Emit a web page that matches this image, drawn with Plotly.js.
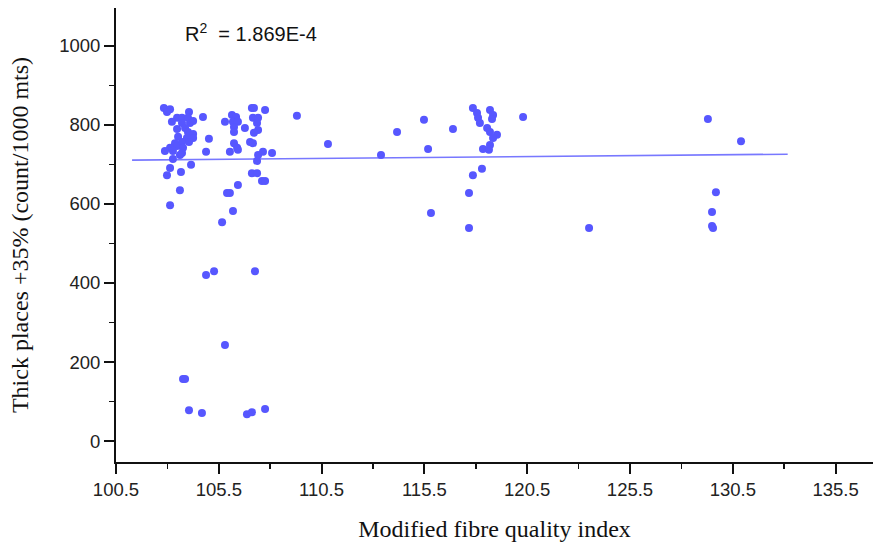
<!DOCTYPE html>
<html>
<head>
<meta charset="utf-8">
<script src="https://cdn.plot.ly/plotly-3.0.1.min.js"></script>
<style>html,body{margin:0;padding:0;background:#fff;}#chart{width:873px;height:544px;}</style>
</head>
<body>
<div id="chart"></div>
<script>
// Modified fibre quality index (x) vs Thick places +35% (y)
const mfqi = [
  102.83,103.13,102.98,104.05,104.73,103.47,103.71,104.00,103.22,103.71,
  104.10,104.25,103.47,103.86,104.00,104.25,103.52,103.95,104.25,103.37,
  103.71,104.05,105.02,103.13,103.47,103.76,102.88,103.27,103.71,104.88,
  103.27,103.61,104.15,103.13,103.66,102.98,103.61,103.13,103.76,103.86,
  104.05,104.68,104.88,105.27,105.80,106.14,106.34,106.19,106.43,106.24,
  106.24,106.77,107.11,107.21,107.75,107.16,107.41,107.36,107.41,107.21,
  106.24,106.39,106.04,106.43,107.02,107.16,107.65,108.09,107.36,107.41,
  107.11,107.36,107.60,107.75,106.43,105.90,106.04,106.19,105.66,107.26,
  105.80,106.87,107.11,107.75,109.30,110.81,113.39,114.17,115.48,115.68,
  116.89,115.82,117.86,118.06,118.11,118.20,118.69,118.84,118.79,118.55,
  118.69,119.03,118.84,118.69,118.35,118.64,120.30,118.30,117.86,117.67,
  117.67,123.51,129.29,130.90,129.68,129.49,129.49,129.54
];
const thickPlaces = [
  843,840,833,833,820,818,818,818,808,805,
  805,810,790,792,782,777,770,767,767,754,
  757,757,765,742,747,742,734,734,729,732,
  714,724,699,691,681,673,635,597,157,157,
  78,71,420,430,808,825,820,808,808,795,
  782,792,843,843,838,818,818,805,787,780,
  754,742,732,737,757,754,732,729,709,724,
  678,678,658,658,648,628,628,582,554,430,
  243,68,73,81,823,752,724,782,813,739,
  790,577,843,830,818,805,838,825,815,792,
  782,775,767,749,739,737,820,689,673,628,
  539,539,815,759,630,580,544,539
];
// Linear fit line endpoints
const fitX = [101.28, 133.17];
const fitY = [711, 726];
const xTickVals = [100.5,105.5,110.5,115.5,120.5,125.5,130.5,135.5];
const xTickText = ["100.5","105.5","110.5","115.5","120.5","125.5","130.5","135.5"];
const yTickVals = [0,200,400,600,800,1000];
const yTickText = ["0","200","400","600","800","1000"];
const rSquaredText = "R<sup>2</sup>  = 1.869E-4";

const traces = [
  {
    x: fitX, y: fitY, type: 'scatter', mode: 'lines',
    line: {color: '#7878ff', width: 1.6},
    hoverinfo: 'skip', showlegend: false
  },
  {
    x: mfqi, y: thickPlaces, type: 'scatter', mode: 'markers',
    marker: {color: '#5757ff', size: 8, line: {width: 0}},
    showlegend: false
  }
];

const tickFont = {family: 'Liberation Sans, Arial, sans-serif', size: 18.5, color: '#222'};
const titleFont = {family: 'Liberation Serif, Times New Roman, serif', size: 24, color: '#111'};
const layout = {
  width: 873, height: 544,
  margin: {l: 116, r: 0, t: 8, b: 82},
  paper_bgcolor: '#fff', plot_bgcolor: '#fff',
  showlegend: false,
  xaxis: {
    range: [100.5, 137.32], autorange: false,
    tickmode: 'array', tickvals: xTickVals, ticktext: xTickText,
    ticks: 'outside', ticklen: 10, tickwidth: 2, tickcolor: '#111',
    minor: {ticks: 'outside', ticklen: 5, tickwidth: 1.5, tickcolor: '#111', dtick: 2.5, tick0: 100.5, showgrid: false},
    showline: true, linecolor: '#111', linewidth: 2,
    showgrid: false, zeroline: false,
    tickfont: tickFont,
    title: {text: 'Modified fibre quality index', font: titleFont, standoff: 21}
  },
  yaxis: {
    range: [-53, 1096], autorange: false,
    tickmode: 'array', tickvals: yTickVals, ticktext: yTickText,
    ticks: 'outside', ticklen: 10, tickwidth: 2, tickcolor: '#111',
    minor: {ticks: 'outside', ticklen: 5, tickwidth: 1.5, tickcolor: '#111', dtick: 100, tick0: 0, showgrid: false},
    showline: true, linecolor: '#111', linewidth: 2,
    showgrid: false, zeroline: false,
    tickfont: tickFont,
    title: {text: 'Thick places +35% (count/1000 mts)', font: titleFont, standoff: 24}
  },
  annotations: [{
    xref: 'paper', yref: 'paper', x: 0.089, y: 0.945, xanchor: 'left', yanchor: 'middle',
    text: rSquaredText, showarrow: false,
    font: {family: 'Liberation Sans, Arial, sans-serif', size: 20, color: '#111'}
  }]
};

Plotly.newPlot('chart', traces, layout, {displayModeBar: false, staticPlot: true});
</script>
</body>
</html>
